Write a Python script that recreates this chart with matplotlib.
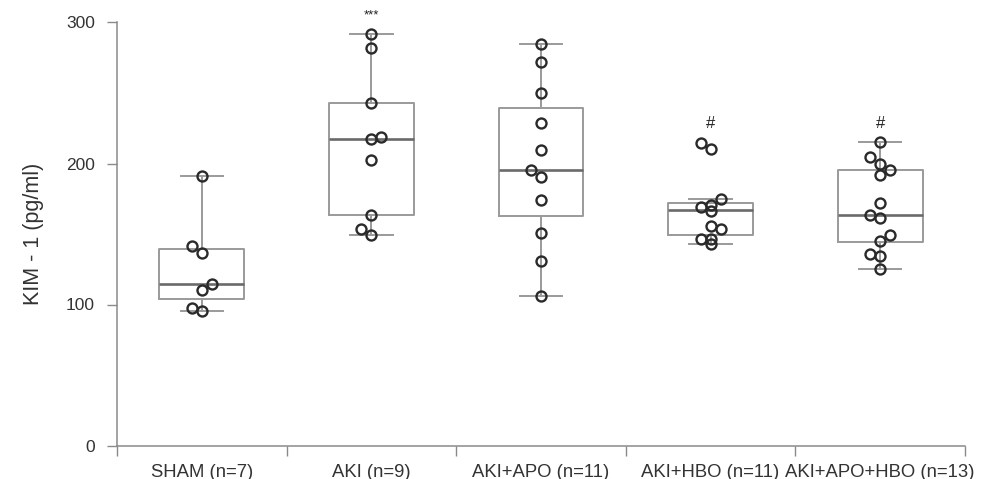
import matplotlib.pyplot as plt
import numpy as np

plt.rcParams["font.family"] = ["Liberation Sans", "DejaVu Sans"]

groups = ["SHAM (n=7)", "AKI (n=9)", "AKI+APO (n=11)", "AKI+HBO (n=11)", "AKI+APO+HBO (n=13)"]

# individual KIM-1 values (pg/ml)
sham = [191.0, 141.7, 136.3, 114.4, 110.4, 97.4, 95.5]
aki = [291.5, 281.8, 242.9, 218.9, 217.2, 202.4, 163.4, 153.3, 149.1]
aki_apo = [284.5, 272.0, 250.2, 228.8, 209.9, 195.3, 190.1, 174.1, 150.5, 130.9, 105.7]
aki_hbo = [214.6, 210.6, 175.0, 169.3, 170.5, 166.3, 155.7, 153.5, 146.2, 146.7, 142.7]
aki_apo_hbo = [215.1, 204.3, 200.0, 195.3, 191.5, 172.2, 163.4, 161.1, 149.3, 145.1, 135.9, 134.7, 125.0]
values = [sham, aki, aki_apo, aki_hbo, aki_apo_hbo]

# box summaries: lower whisker, q1, median, q3, upper whisker
whislo = [95.5, 149.1, 105.7, 142.8, 125.0]
q1 = [104.0, 163.4, 163.0, 149.3, 144.6]
med = [114.6, 217.2, 195.3, 167.0, 163.4]
q3 = [139.2, 242.9, 239.6, 172.2, 195.3]
whishi = [191.0, 291.5, 284.5, 175.0, 215.1]

marks = ["", "***", "", "#", "#"]
mark_y = [0, 305, 0, 228.5, 228.5]

# horizontal lane of each dot (-1 left, 0 centre, 1 right)
lanes = [
    [0, -1, 0, 1, 0, -1, 0],
    [0, 0, 0, 1, 0, 0, 0, -1, 0],
    [0, 0, 0, 0, 0, -1, 0, 0, 0, 0, 0],
    [-1, 0, 1, -1, 0, 0, 0, 1, -1, 0, 0],
    [0, -1, 0, 1, 0, 0, -1, 0, 1, 0, -1, 0, 0],
]

fig = plt.figure(figsize=(9.88, 4.79), dpi=100)
ax = fig.add_axes([117 / 988, 33.5 / 479, 848 / 988, 423 / 479])

stats = [
    {"whislo": whislo[i], "q1": q1[i], "med": med[i], "q3": q3[i], "whishi": whishi[i], "fliers": []}
    for i in range(len(groups))
]
pos = np.arange(len(groups))
ax.bxp(
    stats, positions=pos, widths=0.5, capwidths=0.25, showfliers=False,
    boxprops=dict(color="#9a9a9a", lw=1.4),
    whiskerprops=dict(color="#9a9a9a", lw=1.4),
    capprops=dict(color="#9a9a9a", lw=1.4),
    medianprops=dict(color="#6a6a6a", lw=1.9),
)

for i, vals in enumerate(values):
    xs = pos[i] + np.array(lanes[i]) * 0.059
    ax.plot(xs, vals, "o", ms=7.2, mfc="none", mec="#2a2a2a", mew=1.7, zorder=5)
    if marks[i]:
        fs = 9.5 if marks[i] == "***" else 12
        ax.text(pos[i], mark_y[i], marks[i], ha="center", va="center", fontsize=fs,
                color="#222222", clip_on=False)

ax.set_xlim(-0.5, len(groups) - 0.5)
ax.set_ylim(0, 300)
ax.set_yticks([0, 100, 200, 300])
ax.set_xticks(np.arange(len(groups) + 1) - 0.5)
ax.set_xticklabels([])
ax.set_xticks(pos, minor=True)
ax.set_xticklabels(groups, minor=True, fontsize=13.3, color="#333333")
ax.tick_params(axis="x", which="major", length=7, width=1, color="#8a8a8a", direction="out")
ax.tick_params(axis="x", which="minor", length=0, pad=13)
ax.tick_params(axis="y", length=7, width=1, color="#8a8a8a", pad=9, labelsize=12.5, labelcolor="#333333")

for s in ("top", "right"):
    ax.spines[s].set_visible(False)
for s in ("left", "bottom"):
    ax.spines[s].set_color("#8a8a8a")
    ax.spines[s].set_linewidth(1.1)

ax.set_ylabel("KIM - 1 (pg/ml)", fontsize=15.5, color="#333333", labelpad=16)

fig.savefig("out.png", dpi=100)
